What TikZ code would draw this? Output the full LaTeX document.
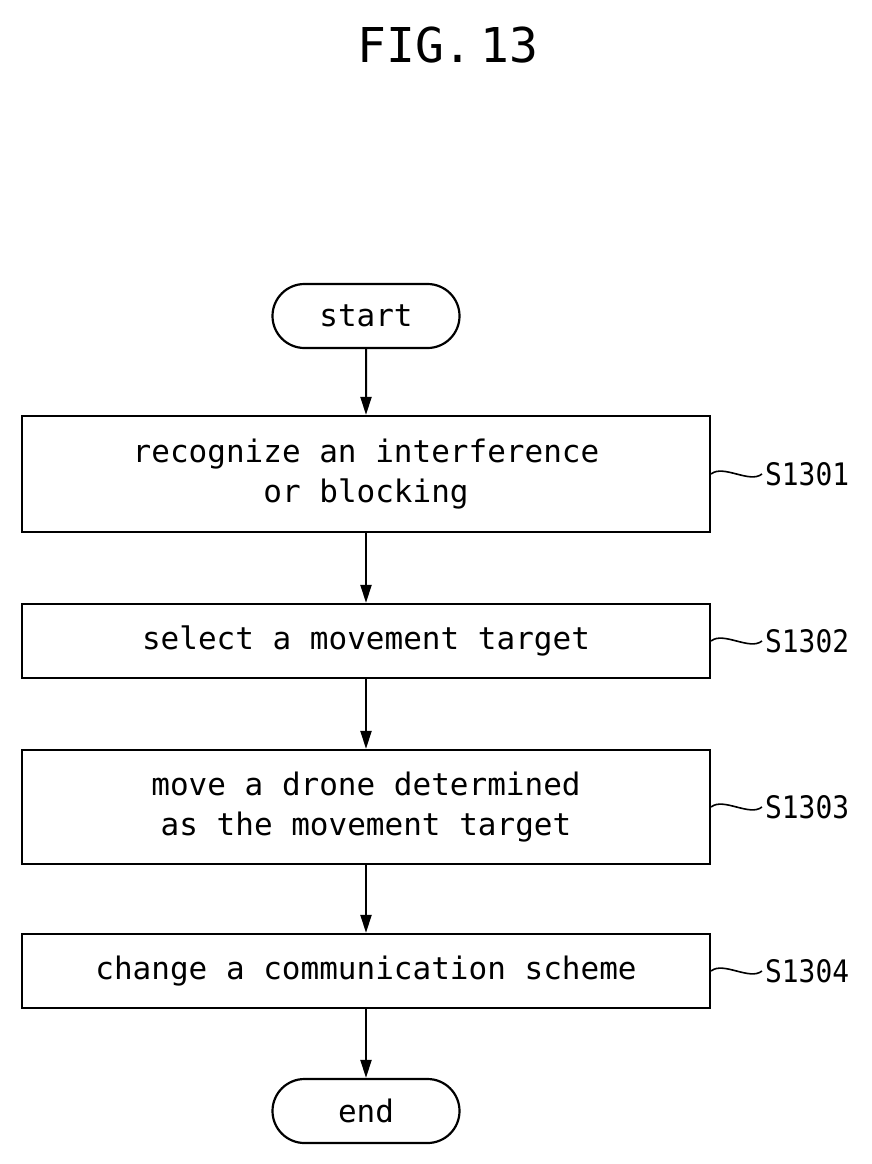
\documentclass[tikz,border=0pt]{standalone}
\usepackage{fontspec}
\setmonofont{DejaVu Sans Mono}
\usetikzlibrary{shapes.misc,arrows.meta}
\begin{document}
\begin{tikzpicture}[x=1pt,y=-1pt,
  txt/.style={font=\fontsize{31}{40}\selectfont\ttfamily},
  box/.style={draw,line width=2.2pt,txt,align=center,inner sep=0pt},
  term/.style={draw,line width=2.2pt,rounded rectangle,txt,minimum width=187pt,minimum height=64pt,inner sep=0pt},
  arr/.style={line width=2pt,-{Triangle[length=18pt,width=11pt]}},
  lab/.style={txt,anchor=west,inner sep=0pt}]
\useasboundingbox (0,0) rectangle (872,1164);
\node[font=\fontsize{48}{52}\selectfont\ttfamily] (title) at (448,45) {FIG.\,13};
\node[term] (start) at (366,316) {start};
\node[box,minimum width=688pt,minimum height=116pt] (b1) at (366,474) {recognize an interference\\or blocking};
\node[box,minimum width=688pt,minimum height=74pt] (b2) at (366,641) {select a movement target};
\node[box,minimum width=688pt,minimum height=114pt] (b3) at (366,807) {move a drone determined\\as the movement target};
\node[box,minimum width=688pt,minimum height=74pt] (b4) at (366,971) {change a communication scheme};
\node[term] (end) at (366,1111) {end};
\draw[arr] (start) -- (b1);
\draw[arr] (b1) -- (b2);
\draw[arr] (b2) -- (b3);
\draw[arr] (b3) -- (b4);
\draw[arr] (b4) -- (end);
\foreach \b/\s in {b1/S1301,b2/S1302,b3/S1303,b4/S1304}{
  \node[lab,xscale=0.9,anchor=center] (l\s) at ([xshift=96pt]\b.east) {\s};
  \draw[line width=1.6pt] (\b.east) .. controls +(12,-10) and +(-12,10) .. ([xshift=-3pt]\b.east-|l\s.west);
}
\end{tikzpicture}
\end{document}
